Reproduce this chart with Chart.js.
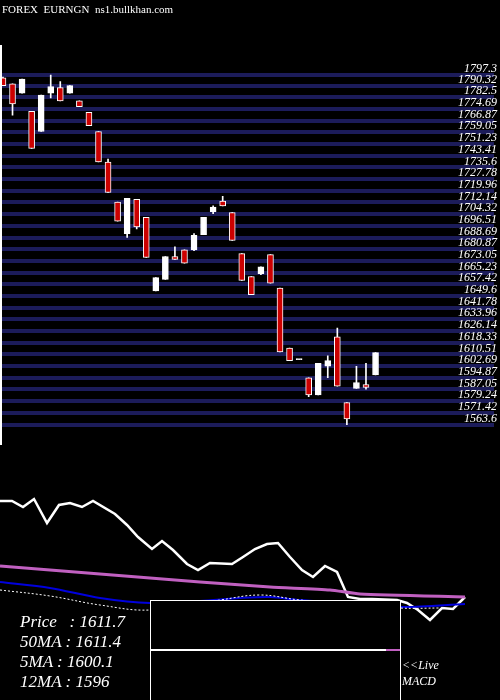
<!DOCTYPE html>
<html><head><meta charset="utf-8">
<script src="https://cdn.jsdelivr.net/npm/chart.js@4"></script>
<style>
html,body{margin:0;padding:0;background:#000;width:500px;height:700px;overflow:hidden;position:relative;font-family:"Liberation Serif","DejaVu Serif",serif;color:#fff}
#c1{position:absolute;left:0;top:0}
#c2{position:absolute;left:0;top:490px}
.t{position:absolute;white-space:pre;font-style:italic}
</style></head><body>
<canvas id="c1" width="500" height="450"></canvas>
<canvas id="c2" width="500" height="210"></canvas>
<div class="t" style="left:2px;top:3px;font-size:11px;font-style:normal">FOREX  EURNGN  ns1.bullkhan.com</div>
<div style="position:absolute;left:0;top:45px;width:2px;height:400px;background:#fff"></div>
<div style="position:absolute;left:150px;top:600px;width:249px;height:100px;border:1px solid #fff;border-bottom:none;background:#000"></div>
<div style="position:absolute;left:151px;top:649px;width:235px;height:2px;background:#fff"></div>
<div style="position:absolute;left:386px;top:649px;width:14px;height:2px;background:#c060c0"></div>
<div class="t" style="left:20px;top:612px;font-size:17px">Price   : 1611.7</div>
<div class="t" style="left:20px;top:632px;font-size:17px">50MA : 1611.4</div>
<div class="t" style="left:20px;top:652px;font-size:17px">5MA : 1600.1</div>
<div class="t" style="left:20px;top:672px;font-size:17px">12MA : 1596</div>
<div class="t" style="left:402px;top:658px;font-size:12px">&lt;&lt;Live</div>
<div class="t" style="left:402px;top:674px;font-size:12px">MACD</div>
<script>
const opens  = [1795.4,1791.5,1785.2,1773.0,1759.6,1785.2,1789.0,1785.2,1780.1,1772.4,1759.6,1739.2,1712.4,1691.3,1714.3,1702.1,1653.0,1660.7,1676.0,1680.4,1680.4,1690.6,1706.0,1713.0,1705.4,1677.9,1662.6,1664.5,1677.2,1654.9,1614.7,1607.0,1594.9,1583.4,1602.6,1622.3,1578.3,1587.8,1590.4,1596.8];
const closes = [1790.3,1778.1,1794.7,1748.2,1783.9,1789.6,1780.1,1790.3,1776.2,1763.5,1739.2,1718.8,1699.6,1714.9,1695.7,1675.3,1661.9,1676.0,1674.1,1671.5,1690.1,1702.2,1709.1,1709.8,1686.8,1660.0,1650.5,1669.0,1658.1,1612.1,1606.4,1607.0,1583.4,1604.5,1606.4,1589.2,1567.4,1591.7,1588.5,1611.7];
const highs  = [1796.0,1791.5,1794.7,1773.0,1783.9,1797.3,1792.9,1790.3,1780.1,1772.4,1759.6,1741.1,1712.4,1714.9,1714.3,1702.1,1661.9,1676.0,1682.4,1680.4,1691.3,1702.2,1709.8,1716.2,1705.4,1677.9,1662.6,1669.0,1677.2,1654.9,1614.7,1607.0,1594.9,1604.5,1609.6,1628.1,1578.3,1602.6,1604.5,1611.7];
const lows   = [1790.3,1770.5,1785.2,1748.2,1759.6,1782.0,1780.1,1785.2,1776.2,1763.5,1739.2,1718.8,1699.6,1688.7,1694.5,1675.3,1653.0,1660.7,1674.1,1671.5,1679.8,1690.6,1704.7,1709.8,1686.8,1660.0,1650.5,1663.9,1658.1,1612.1,1606.4,1607.0,1582.2,1583.4,1594.9,1589.2,1563.6,1587.8,1587.3,1596.8];
const tickLabels = ["1797.3","1790.32","1782.5","1774.69","1766.87","1759.05","1751.23","1743.41","1735.6","1727.78","1719.96","1712.14","1704.32","1696.51","1688.69","1680.87","1673.05","1665.23","1657.42","1649.6","1641.78","1633.96","1626.14","1618.33","1610.51","1602.69","1594.87","1587.05","1579.24","1571.42","1563.6"];

const osX = [0,12,23,34,47,59,70,82,93,115,127,138,152,162,173,187,198,210,232,243,255,267,278,290,302,313,325,337,348,360,372,397,407,418,430,442,453,465];
const osY = [199,199,193,201,177,195,197,193,199,186,175,163,151,159,150,136,130,137,136,143,151,156,157,143,130,123,134,128,103,101,101,100,97,90,80,92,91,103];
const maLongX = [0,100,200,270,330,360,465];
const maLongY = [134,126,118,113,110,106,103];
const maMidX = [0,50,100,150,200,240,270,300,400,465];
const maMidY = [118,112,102,97,99,102,103,100,93,96];
const maShortX = [0,50,100,150,220,260,300,400,440];
const maShortY = [110,104,95,90,100,105,100,92,92];

const bodies = opens.map((o,i)=>{const lo=Math.min(o,closes[i]),hi=Math.max(o,closes[i]);return {x:i,y:[lo,hi===lo?lo+0.8:hi]};});
const wicks = highs.map((h,i)=>({x:i,y:[lows[i],h]}));
const isUp = opens.map((o,i)=>closes[i]>=o);
const tickVals = tickLabels.map(Number);

new Chart(document.getElementById('c1'),{
  type:'bar',
  data:{datasets:[
    {data:wicks,backgroundColor:'#fff',barThickness:1,grouped:false,order:2},
    {data:bodies,grouped:false,barThickness:6,order:1,
     backgroundColor:isUp.map(u=>u?'#fff':'#cc0000'),borderColor:'#fff',borderWidth:1,borderSkipped:false}
  ]},
  options:{responsive:false,animation:false,events:[],
    layout:{padding:0},
    plugins:{legend:{display:false},tooltip:{enabled:false}},
    scales:{
      x:{type:'linear',min:-0.31,max:51.4,offset:false,display:false},
      y:{position:'right',min:1553.4,max:1840.7,border:{display:false},
        afterBuildTicks:s=>{s.ticks=tickVals.map(v=>({value:v}));},
        grid:{color:'#1c1c5a',lineWidth:4,drawTicks:false},
        ticks:{mirror:true,autoSkip:false,color:'#fff',padding:3,labelOffset:-6,font:{family:'Liberation Serif',size:12,style:'italic'},
          callback:(v,i)=>tickLabels[i]}}
    }}
});

const xy=(xs,ys)=>xs.map((x,i)=>({x,y:ys[i]}));
new Chart(document.getElementById('c2'),{
  type:'line',
  data:{datasets:[
    {data:xy(maShortX,maShortY),borderColor:'#fff',borderWidth:1,borderDash:[2,2],pointRadius:0,tension:0.4},
    {data:xy(maMidX,maMidY),borderColor:'#0000dd',borderWidth:2,pointRadius:0,tension:0.3},
    {data:xy(maLongX,maLongY),borderColor:'#c060c0',borderWidth:3,pointRadius:0,tension:0.2},
    {data:xy(osX,osY),borderColor:'#fff',borderWidth:2.5,pointRadius:0}
  ]},
  options:{responsive:false,animation:false,events:[],layout:{padding:0},
    plugins:{legend:{display:false},tooltip:{enabled:false}},
    scales:{x:{type:'linear',min:0,max:500,display:false},y:{min:0,max:210,display:false}}}
});
</script>
</body></html>
